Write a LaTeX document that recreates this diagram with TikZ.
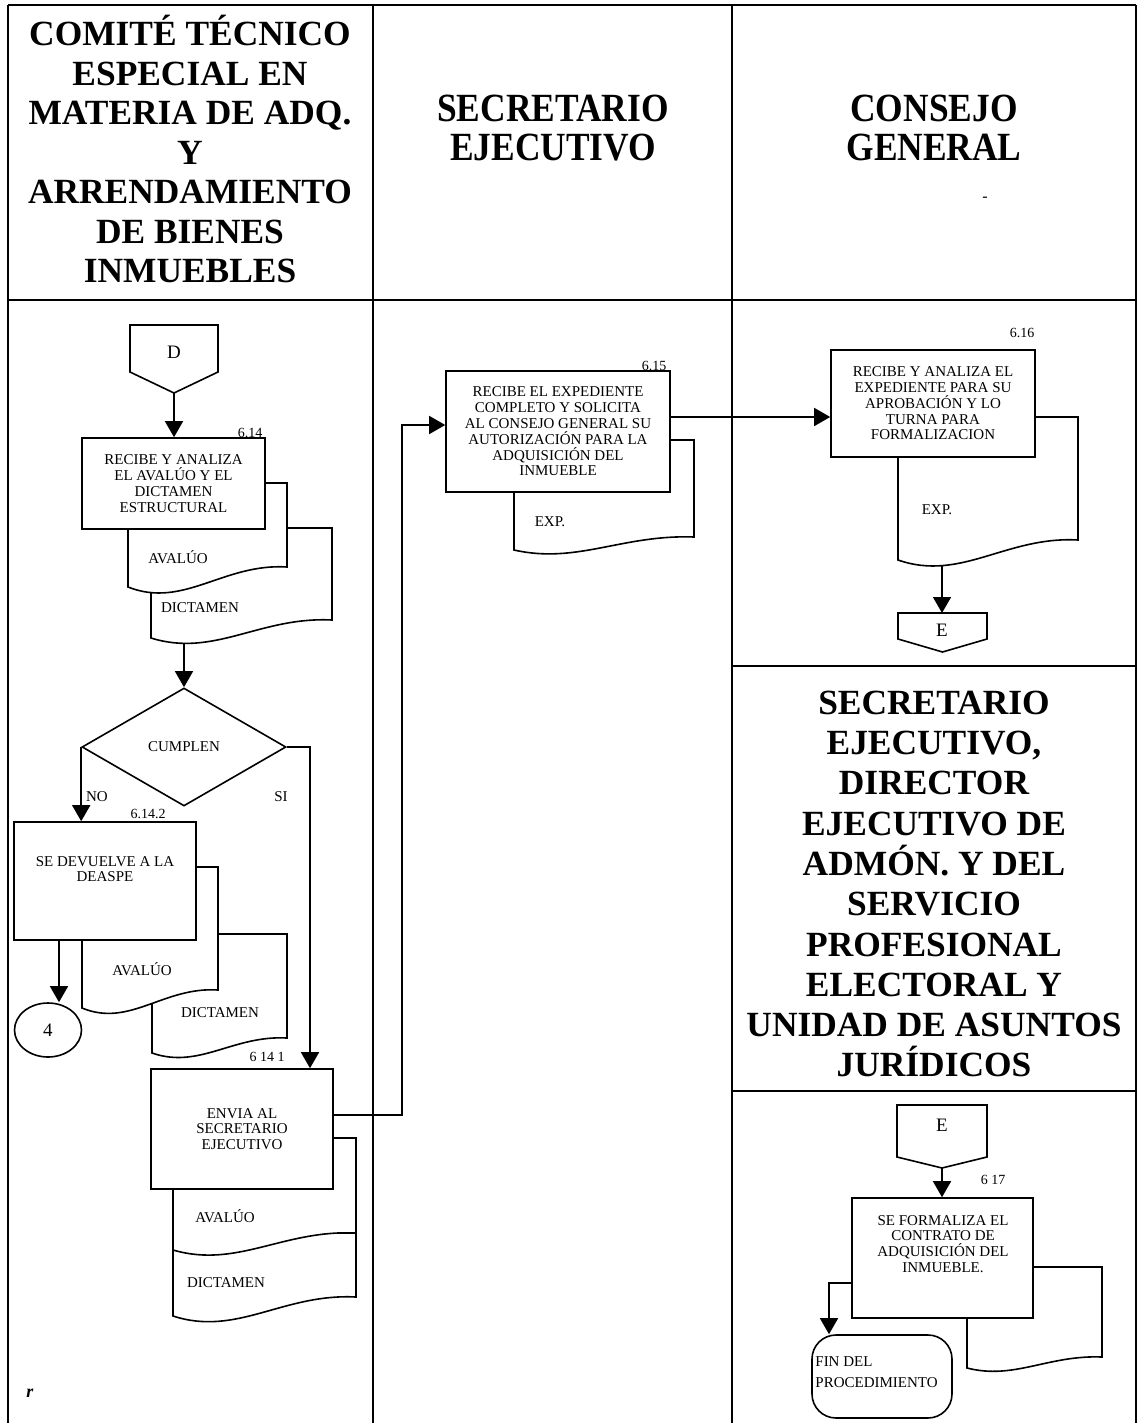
\documentclass[tikz,border=0pt]{standalone}
\usepackage{fontspec}
\setmainfont{Liberation Serif}
\newfontfamily\narrowserif[FakeStretch=0.885]{Liberation Serif}
\usetikzlibrary{arrows.meta,shapes.geometric}

% document symbol: left, right, top, bottom-left y, rise of the right end
\newcommand\docshape[5]{%
  \filldraw[shapeline,fill=white] (#1,#3) -- (#2,#3) -- (#2,{#4-#5})
    .. controls ({#1+0.6*(#2-#1)},{#4-1.2*#5}) and ({#1+0.35*(#2-#1)},{#4+1.1*#5}) ..
    (#1,#4) -- cycle;}

% off-page connector: left, right, top, side bottom, tip y
\newcommand\offpage[5]{%
  \filldraw[shapeline,fill=white] (#1,#3) -- (#2,#3) -- (#2,#4) -- ({(#1+#2)/2},#5) -- (#1,#4) -- cycle;}

\begin{document}
\begin{tikzpicture}[x=0.5pt,y=-0.5pt,
  frame/.style={line width=0.9pt},
  shapeline/.style={line width=0.8pt},
  flow/.style={line width=0.8pt,-{Triangle[length=8pt,width=9pt]}},
  procbox/.style={draw,shapeline,fill=white,rectangle,inner sep=0pt,
    font=\fontsize{7.5}{7.9}\selectfont,align=center},
  boxtext/.style={font=\fontsize{7.5}{7.9}\selectfont,align=center,inner sep=0pt},
  doctext/.style={font=\fontsize{7.5}{8}\selectfont,inner sep=0pt},
  steplabel/.style={font=\fontsize{7}{8}\selectfont,inner sep=0pt},
  lanehead/.style={font=\bfseries\fontsize{17.7}{19.75}\selectfont,align=center},
  narrowhead/.style={font=\narrowserif\bfseries\fontsize{20}{19.5}\selectfont,align=center},
  bigletter/.style={font=\fontsize{9.5}{10}\selectfont,inner sep=0pt}
]
\useasboundingbox (0,0) rectangle (1138,1423);
\fill[white] (0,0) rectangle (1138,1423);

% ---------- lane frame ----------
\draw[frame] (8,5) -- (1136,5);
\draw[frame] (8,300) -- (1136,300);
\draw[frame] (732,666) -- (1136,666);
\draw[frame] (732,1091) -- (1136,1091);
\draw[frame] (8,5) -- (8,1423);
\draw[frame] (373,5) -- (373,1423);
\draw[frame] (732,5) -- (732,1423);
\draw[frame] (1136,5) -- (1136,1423);

% ---------- lane headings ----------
\node[lanehead] (h1) at (190,149) {COMITÉ TÉCNICO\\ESPECIAL EN\\MATERIA DE ADQ.\\Y\\ARRENDAMIENTO\\DE BIENES\\INMUEBLES};
\node[narrowhead] (h2) at (553,128) {SECRETARIO\\EJECUTIVO};
\node[narrowhead] (h3) at (934,128) {CONSEJO\\GENERAL};
\node[lanehead,font=\bfseries\fontsize{17.7}{20.15}\selectfont] (h4) at (934,884)
  {SECRETARIO\\EJECUTIVO,\\DIRECTOR\\EJECUTIVO DE\\ADMÓN. Y DEL\\SERVICIO\\PROFESIONAL\\ELECTORAL Y\\UNIDAD DE ASUNTOS\\JURÍDICOS};
\node[font=\fontsize{8}{8}\selectfont,inner sep=0pt] (mk1) at (985,199) {-};
\node[font=\bfseries\itshape\fontsize{9}{9}\selectfont,inner sep=0pt] (mk2) at (30,1393) {r};

% ---------- left lane ----------
\offpage{130}{218}{325}{372}{393}
\node[bigletter] (offD) at (174,352) {D};
\coordinate (Dtip) at (174,393);

\docshape{151}{332}{528}{638}{18}
\node[doctext] (d1b) at (200,608) {DICTAMEN};
\docshape{128}{287}{483}{587}{20}
\node[doctext] (d1a) at (178,557) {AVALÚO};
\node[procbox,minimum width=91.5pt,minimum height=45.5pt] (p614) at (173.5,483.5)
  {RECIBE Y ANALIZA\\EL AVALÚO Y EL\\DICTAMEN\\ESTRUCTURAL};
\node[steplabel] (l614) at (250,433) {6.14};
\draw[flow] (Dtip) -- (Dtip |- p614.north);

\coordinate (d1out) at (184,643);
\node[diamond,draw,shapeline,fill=white,inner sep=0pt,minimum width=102pt,minimum height=59pt,
  font=\fontsize{7.5}{8}\selectfont] (cumplen) at (184,747) {CUMPLEN};
\draw[flow] (d1out) -- (cumplen.north);

% NO branch
\docshape{152}{287}{934}{1053}{15}
\node[doctext] (d2b) at (220,1013) {DICTAMEN};
\docshape{82}{218}{867}{1008}{18}
\node[doctext] (d2a) at (142,969) {AVALÚO};
\node[procbox,minimum width=91pt,minimum height=59pt] (p6142) at (105,881) {};
\node[boxtext] (t6142) at (105,869) {SE DEVUELVE A LA\\DEASPE};
\node[steplabel] (l6142) at (148,814) {6.14.2};
\draw[flow] (cumplen.west) -- (cumplen.west |- p6142.north);
\node[font=\fontsize{7.5}{8}\selectfont,inner sep=0pt] (no) at (97,797) {NO};

\node[ellipse,draw,shapeline,fill=white,inner sep=0pt,minimum width=33.5pt,minimum height=27pt,
  font=\fontsize{9.5}{10}\selectfont] (four) at (48,1030) {4};
\coordinate (n4x) at (59,0);
\draw[flow] (p6142.south -| n4x) -- (n4x |- four.north);

% SI branch
\docshape{173}{356}{1233}{1316}{19}
\node[doctext] (d3b) at (226,1283) {DICTAMEN};
\docshape{173}{356}{1138}{1250}{17}
\node[doctext] (d3a) at (225,1216) {AVALÚO};
\node[procbox,minimum width=91pt,minimum height=60pt] (p6141) at (242,1129)
  {ENVIA AL\\SECRETARIO\\EJECUTIVO};
\node[steplabel] (l6141) at (267,1057) {6 14 1};
\coordinate (si) at (310,747);
\draw[flow] (cumplen.east) -- (si) -- (si |- p6141.north);
\node[font=\fontsize{7.5}{8}\selectfont,inner sep=0pt] (sil) at (281,797) {SI};

% ---------- middle lane ----------
\docshape{514}{694}{440}{550}{13}
\node[doctext] (d4) at (550,522) {EXP.};
\node[procbox,minimum width=112pt,minimum height=60.5pt] (p615) at (558,431.5)
  {RECIBE EL EXPEDIENTE\\COMPLETO Y SOLICITA\\AL CONSEJO GENERAL SU\\AUTORIZACIÓN PARA LA\\ADQUISICIÓN DEL\\INMUEBLE};
\node[steplabel] (l615) at (654,366) {6.15};
\coordinate (r1a) at (402,1115);
\coordinate (r1b) at (402,425);
\draw[flow] (p6141.east |- r1a) -- (r1a) -- (r1b) -- (p615.west |- r1b);

% ---------- right lane: consejo general ----------
\docshape{898}{1078}{417}{560}{20}
\node[doctext] (d5) at (937,510) {EXP.};
\node[procbox,minimum width=102pt,minimum height=53.5pt] (p616) at (933,403.5)
  {RECIBE Y ANALIZA EL\\EXPEDIENTE PARA SU\\APROBACIÓN Y LO\\TURNA PARA\\FORMALIZACION};
\node[steplabel] (l616) at (1022,333) {6.16};
\coordinate (r2) at (750,417);
\draw[flow] (p615.east |- r2) -- (p616.west |- r2);

\offpage{898}{987}{613}{639}{652}
\node[bigletter] (offE1) at (942,630) {E};
\coordinate (E1top) at (942,613);
\coordinate (d5out) at (942,566);
\draw[flow] (d5out) -- (E1top);

% ---------- right lane: formalization ----------
\offpage{897}{987}{1105}{1157}{1168}
\node[bigletter] (offE2) at (942,1125) {E};
\coordinate (E2tip) at (942,1168);

\docshape{967}{1102}{1267}{1368}{11}
\node[procbox,minimum width=90.5pt,minimum height=60pt] (p617) at (942.5,1258) {};
\node[boxtext] (t617) at (943,1244) {SE FORMALIZA EL\\CONTRATO DE\\ADQUISICIÓN DEL\\INMUEBLE.};
\node[steplabel] (l617) at (993,1180) {6 17};
\draw[flow] (E2tip) -- (E2tip |- p617.north);

\node[draw,shapeline,fill=white,rectangle,rounded corners=12pt,minimum width=70pt,minimum height=41.5pt,
  inner sep=0pt] (fin) at (882,1376.5) {};
\node[font=\fontsize{7.5}{10.5}\selectfont,align=left,inner sep=0pt,anchor=west] (tfin) at (815,1372)
  {FIN DEL\\PROCEDIMIENTO};
\coordinate (f1) at (829,1283);
\draw[flow] (p617.west |- f1) -- (f1) -- (f1 |- fin.north);
\end{tikzpicture}
\end{document}
